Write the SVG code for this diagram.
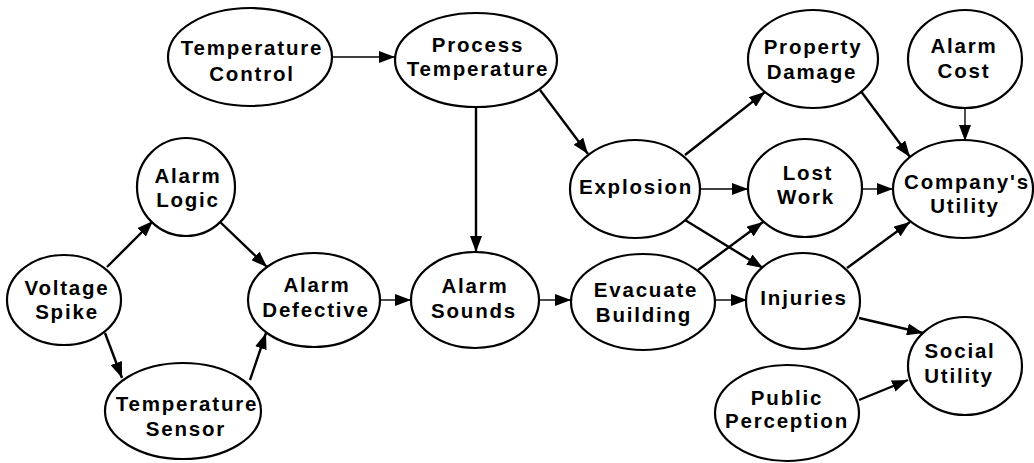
<svg xmlns="http://www.w3.org/2000/svg" width="1034" height="463" viewBox="0 0 1034 463">
  <style>
    .node ellipse { fill: #fff; stroke: #000; stroke-width: 2.2; }
    .node text { font-family: "Liberation Sans", Arial, Helvetica, sans-serif; font-weight: bold; font-size: 20.5px; letter-spacing: 1.8px; text-anchor: middle; fill: #000; }
    .edges line { stroke: #000; stroke-width: 2.4; marker-end: url(#arrow); }
    .edges line.thin { stroke-width: 1.4; }
  </style>
  <defs>
    <marker id="arrow" markerUnits="userSpaceOnUse" markerWidth="16" markerHeight="12" refX="16" refY="6" orient="auto">
      <path d="M0,0 L16,6 L0,12 z" fill="#000"/>
    </marker>
  </defs>

  <!-- connectors -->
  <g class="edges">
    <line class="thin" x1="332" y1="57" x2="395" y2="57"/>
    <line x1="476" y1="107" x2="476" y2="252"/>
    <line x1="540" y1="90" x2="588" y2="154"/>
    <line x1="107" y1="267" x2="153" y2="221"/>
    <line x1="218" y1="220" x2="267" y2="267"/>
    <line x1="105" y1="333" x2="122" y2="378"/>
    <line x1="250" y1="380" x2="266" y2="333"/>
    <line class="thin" x1="380" y1="300" x2="411" y2="300"/>
    <line class="thin" x1="540" y1="300" x2="571" y2="300"/>
    <line x1="685" y1="155" x2="765" y2="92"/>
    <line class="thin" x1="700" y1="189" x2="748" y2="189"/>
    <line x1="685" y1="220" x2="763" y2="268"/>
    <line x1="698" y1="270" x2="763" y2="222"/>
    <line class="thin" x1="715" y1="300" x2="747" y2="300"/>
    <line x1="860" y1="90" x2="910" y2="157"/>
    <line class="thin" x1="965" y1="108" x2="965" y2="141"/>
    <line class="thin" x1="862" y1="189" x2="893" y2="189"/>
    <line x1="847" y1="268" x2="910" y2="222"/>
    <line x1="859" y1="318" x2="923" y2="333"/>
    <line x1="859" y1="400" x2="908" y2="380"/>
  </g>

  <!-- nodes -->
  <g id="temperature-control" class="node">
    <ellipse cx="250" cy="57" rx="82" ry="49"/>
    <text x="252" y="55">Temperature</text>
    <text x="252" y="81">Control</text>
  </g>
  <g id="process-temperature" class="node">
    <ellipse cx="476" cy="60" rx="81" ry="47"/>
    <text x="478" y="52">Process</text>
    <text x="478" y="76">Temperature</text>
  </g>
  <g id="alarm-logic" class="node">
    <ellipse cx="186" cy="187" rx="49" ry="49"/>
    <text x="188" y="183">Alarm</text>
    <text x="188" y="207">Logic</text>
  </g>
  <g id="voltage-spike" class="node">
    <ellipse cx="64" cy="300" rx="57" ry="45"/>
    <text x="67" y="295">Voltage</text>
    <text x="67" y="319">Spike</text>
  </g>
  <g id="temperature-sensor" class="node">
    <ellipse cx="183" cy="411" rx="78" ry="48"/>
    <text x="187" y="411">Temperature</text>
    <text x="186" y="436">Sensor</text>
  </g>
  <g id="alarm-defective" class="node">
    <ellipse cx="314" cy="300" rx="66" ry="47"/>
    <text x="317" y="292">Alarm</text>
    <text x="316" y="317">Defective</text>
  </g>
  <g id="alarm-sounds" class="node">
    <ellipse cx="475" cy="300" rx="64" ry="48"/>
    <text x="475" y="293">Alarm</text>
    <text x="474" y="318">Sounds</text>
  </g>
  <g id="evacuate-building" class="node">
    <ellipse cx="643" cy="302" rx="72" ry="48"/>
    <text x="646" y="297">Evacuate</text>
    <text x="644" y="322">Building</text>
  </g>
  <g id="explosion" class="node">
    <ellipse cx="635" cy="189" rx="65" ry="49"/>
    <text x="636" y="194">Explosion</text>
  </g>
  <g id="property-damage" class="node">
    <ellipse cx="813" cy="59" rx="65" ry="49"/>
    <text x="813" y="54">Property</text>
    <text x="812" y="79">Damage</text>
  </g>
  <g id="alarm-cost" class="node">
    <ellipse cx="965" cy="59" rx="57" ry="49"/>
    <text x="964" y="53">Alarm</text>
    <text x="964" y="78">Cost</text>
  </g>
  <g id="lost-work" class="node">
    <ellipse cx="805" cy="188" rx="57" ry="49"/>
    <text x="808" y="180">Lost</text>
    <text x="806" y="204">Work</text>
  </g>
  <g id="companys-utility" class="node">
    <ellipse cx="963" cy="189" rx="70" ry="49"/>
    <text x="967" y="189">Company's</text>
    <text x="965" y="213">Utility</text>
  </g>
  <g id="injuries" class="node">
    <ellipse cx="803" cy="301" rx="57" ry="48"/>
    <text x="804" y="305">Injuries</text>
  </g>
  <g id="social-utility" class="node">
    <ellipse cx="965" cy="366" rx="57" ry="49"/>
    <text x="960" y="358">Social</text>
    <text x="959" y="383">Utility</text>
  </g>
  <g id="public-perception" class="node">
    <ellipse cx="787" cy="413" rx="72" ry="48"/>
    <text x="787" y="405">Public</text>
    <text x="787" y="428">Perception</text>
  </g>
</svg>
